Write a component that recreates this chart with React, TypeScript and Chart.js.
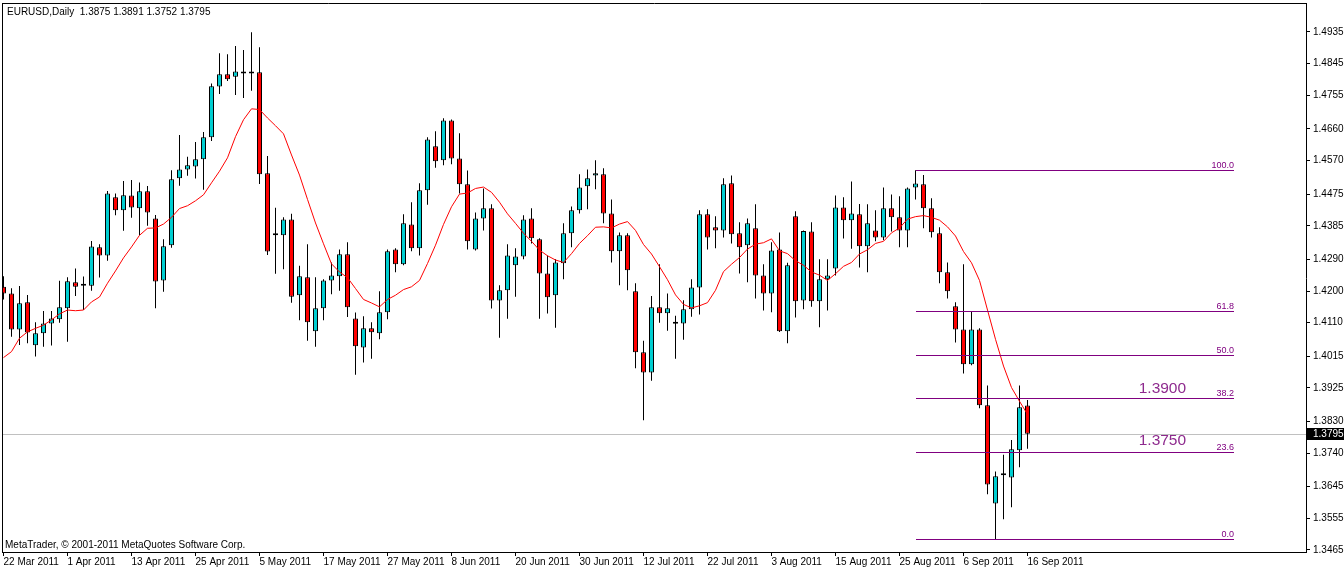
import React, { useEffect, useRef } from "react";
import { Chart, registerables } from "chart.js";

Chart.register(...registerables);

// ---------- data ----------
const symbolName = "EURUSD";
const periodName = "Daily";
const copyrightText = "MetaTrader, \u00A9 2001-2011 MetaQuotes Software Corp.";

const dateLabels = [
  "22 Mar 2011", "1 Apr 2011", "13 Apr 2011", "25 Apr 2011", "5 May 2011", "17 May 2011",
  "27 May 2011", "8 Jun 2011", "20 Jun 2011", "30 Jun 2011", "12 Jul 2011", "22 Jul 2011",
  "3 Aug 2011", "15 Aug 2011", "25 Aug 2011", "6 Sep 2011", "16 Sep 2011",
];
const dateTickIndex = [0, 8, 16, 24, 32, 40, 48, 56, 64, 72, 80, 88, 96, 104, 112, 120, 128];

const yTickLabels = [
  "1.4935", "1.4845", "1.4755", "1.4660", "1.4570", "1.4475", "1.4385", "1.4290", "1.4200",
  "1.4110", "1.4015", "1.3925", "1.3830", "1.3740", "1.3645", "1.3555", "1.3465",
];

const opens = [
  1.4212, 1.4193, 1.4091, 1.4168, 1.4046, 1.4080, 1.4108, 1.4120, 1.4151, 1.4225,
  1.4215, 1.4215, 1.4324, 1.4301, 1.4466, 1.4429, 1.4471, 1.4435, 1.4483, 1.4406,
  1.4230, 1.4330, 1.4520, 1.4545, 1.4553, 1.4574, 1.4636, 1.4780, 1.4815, 1.4808,
  1.4823, 1.4821, 1.4821, 1.4534, 1.4358, 1.4358, 1.4403, 1.4188, 1.4239, 1.4086,
  1.4151, 1.4230, 1.4242, 1.4304, 1.4122, 1.4040, 1.4094, 1.4080, 1.4140, 1.4318,
  1.4276, 1.4389, 1.4321, 1.4486, 1.4611, 1.4571, 1.4684, 1.4576, 1.4503, 1.4318,
  1.4406, 1.4435, 1.4173, 1.4202, 1.4273, 1.4298, 1.4406, 1.4347, 1.4250, 1.4188,
  1.4279, 1.4364, 1.4429, 1.4497, 1.4528, 1.4531, 1.4420, 1.4313, 1.4358, 1.4199,
  1.4026, 1.3969, 1.4154, 1.4137, 1.4107, 1.4108, 1.4148, 1.4210, 1.4418, 1.4381,
  1.4372, 1.4506, 1.4364, 1.4330, 1.4378, 1.4244, 1.4193, 1.4318, 1.4086, 1.4412,
  1.4173, 1.4369, 1.4171, 1.4233, 1.4264, 1.4437, 1.4401, 1.4418, 1.4327, 1.4372,
  1.4352, 1.4435, 1.4409, 1.4372, 1.4494, 1.4503, 1.4435, 1.4364, 1.4253, 1.4157,
  1.4091, 1.3992, 1.4091, 1.3876, 1.3597, 1.3677, 1.3671, 1.3748, 1.3875,
];
const highs = [
  1.4242, 1.4208, 1.4214, 1.4189, 1.4111, 1.4143, 1.4143, 1.4229, 1.4239, 1.4264,
  1.4241, 1.4342, 1.4333, 1.4484, 1.4477, 1.4512, 1.4515, 1.4508, 1.4498, 1.4416,
  1.4347, 1.4543, 1.4643, 1.4581, 1.4623, 1.4651, 1.4789, 1.4875, 1.4872, 1.4895,
  1.4884, 1.4934, 1.4892, 1.4583, 1.4436, 1.4409, 1.4419, 1.4272, 1.4333, 1.4239,
  1.4233, 1.4281, 1.4318, 1.4338, 1.4139, 1.4128, 1.4111, 1.4199, 1.4318, 1.4321,
  1.4418, 1.4452, 1.4506, 1.4636, 1.4653, 1.4690, 1.4687, 1.4648, 1.4542, 1.4423,
  1.4491, 1.4446, 1.4216, 1.4333, 1.4321, 1.4415, 1.4435, 1.4350, 1.4301, 1.4290,
  1.4392, 1.4440, 1.4531, 1.4545, 1.4571, 1.4548, 1.4460, 1.4366, 1.4364, 1.4222,
  1.4059, 1.4186, 1.4276, 1.4193, 1.4130, 1.4174, 1.4233, 1.4429, 1.4432, 1.4412,
  1.4520, 1.4528, 1.4395, 1.4406, 1.4446, 1.4276, 1.4338, 1.4366, 1.4280, 1.4426,
  1.4372, 1.4395, 1.4290, 1.4290, 1.4471, 1.4466, 1.4511, 1.4447, 1.4446, 1.4429,
  1.4494, 1.4474, 1.4469, 1.4494, 1.4543, 1.4529, 1.4463, 1.4381, 1.4281, 1.4168,
  1.4276, 1.4141, 1.4094, 1.3932, 1.3688, 1.3735, 1.3777, 1.3932, 1.3891,
];
const lows = [
  1.4176, 1.4070, 1.4047, 1.4052, 1.4014, 1.4042, 1.4045, 1.4110, 1.4056, 1.4186,
  1.4146, 1.4201, 1.4238, 1.4286, 1.4415, 1.4371, 1.4408, 1.4358, 1.4385, 1.4151,
  1.4198, 1.4323, 1.4499, 1.4527, 1.4519, 1.4487, 1.4626, 1.4759, 1.4796, 1.4756,
  1.4748, 1.4768, 1.4504, 1.4302, 1.4249, 1.4262, 1.4167, 1.4117, 1.4059, 1.4042,
  1.4117, 1.4191, 1.4201, 1.4126, 1.3962, 1.3997, 1.4008, 1.4063, 1.4120, 1.4253,
  1.4273, 1.4313, 1.4301, 1.4445, 1.4550, 1.4557, 1.4560, 1.4477, 1.4318, 1.4315,
  1.4372, 1.4150, 1.4067, 1.4121, 1.4184, 1.4290, 1.4335, 1.4121, 1.4136, 1.4096,
  1.4233, 1.4324, 1.4420, 1.4432, 1.4489, 1.4392, 1.4281, 1.4216, 1.4202, 1.3981,
  1.3833, 1.3945, 1.4110, 1.4087, 1.4008, 1.4062, 1.4127, 1.4133, 1.4318, 1.4321,
  1.4352, 1.4335, 1.4250, 1.4225, 1.4179, 1.4145, 1.4140, 1.4084, 1.4052, 1.4125,
  1.4148, 1.4155, 1.4097, 1.4145, 1.4244, 1.4349, 1.4320, 1.4267, 1.4253, 1.4341,
  1.4344, 1.4369, 1.4324, 1.4324, 1.4460, 1.4378, 1.4352, 1.4222, 1.4179, 1.4054,
  1.3966, 1.3989, 1.3867, 1.3623, 1.3495, 1.3552, 1.3586, 1.3700, 1.3752,
];
const closes = [
  1.4193, 1.4091, 1.4165, 1.4082, 1.4080, 1.4108, 1.4122, 1.4154, 1.4228, 1.4212,
  1.4215, 1.4326, 1.4301, 1.4477, 1.4429, 1.4472, 1.4437, 1.4483, 1.4423, 1.4227,
  1.4327, 1.4517, 1.4545, 1.4557, 1.4574, 1.4636, 1.4781, 1.4815, 1.4801, 1.4823,
  1.4817, 1.4817, 1.4531, 1.4312, 1.4358, 1.4403, 1.4184, 1.4242, 1.4111, 1.4151,
  1.4230, 1.4244, 1.4304, 1.4154, 1.4043, 1.4094, 1.4083, 1.4140, 1.4313, 1.4276,
  1.4392, 1.4321, 1.4486, 1.4630, 1.4568, 1.4684, 1.4576, 1.4503, 1.4341, 1.4406,
  1.4435, 1.4173, 1.4202, 1.4301, 1.4298, 1.4403, 1.4350, 1.4250, 1.4182, 1.4281,
  1.4364, 1.4429, 1.4494, 1.4520, 1.4534, 1.4420, 1.4313, 1.4358, 1.4259, 1.4026,
  1.3969, 1.4154, 1.4137, 1.4151, 1.4107, 1.4148, 1.4210, 1.4418, 1.4352, 1.4372,
  1.4503, 1.4361, 1.4324, 1.4392, 1.4244, 1.4193, 1.4315, 1.4086, 1.4273, 1.4171,
  1.4370, 1.4171, 1.4233, 1.4244, 1.4437, 1.4401, 1.4420, 1.4327, 1.4392, 1.4352,
  1.4435, 1.4409, 1.4372, 1.4491, 1.4505, 1.4435, 1.4367, 1.4253, 1.4199, 1.4091,
  1.3992, 1.4091, 1.3876, 1.3651, 1.3674, 1.3677, 1.3751, 1.3870, 1.3795,
];
// red moving-average line
const ma10 = [
  1.4011, 1.4028, 1.4066, 1.4084, 1.4094, 1.4103, 1.4118, 1.4135, 1.4146, 1.4144,
  1.4146, 1.4169, 1.4183, 1.4222, 1.4257, 1.4294, 1.4325, 1.4358, 1.4378, 1.4379,
  1.4390, 1.4409, 1.4434, 1.4442, 1.4456, 1.4473, 1.4507, 1.4540, 1.4578, 1.4638,
  1.4686, 1.4717, 1.4715, 1.4691, 1.4669, 1.4646, 1.4586, 1.4529, 1.4460, 1.4393,
  1.4334, 1.4277, 1.4254, 1.4238, 1.4207, 1.4176, 1.4166, 1.4155, 1.4176, 1.4188,
  1.4204, 1.4212, 1.4230, 1.4278, 1.4330, 1.4389, 1.4439, 1.4475, 1.4478, 1.4491,
  1.4495, 1.4480, 1.4452, 1.4419, 1.4392, 1.4364, 1.4341, 1.4316, 1.4300, 1.4288,
  1.4281, 1.4306, 1.4335, 1.4357, 1.4381, 1.4382, 1.4379, 1.4390, 1.4397, 1.4372,
  1.4332, 1.4305, 1.4269, 1.4232, 1.4189, 1.4162, 1.4152, 1.4158, 1.4167, 1.4202,
  1.4255, 1.4276, 1.4295, 1.4319, 1.4333, 1.4337, 1.4348, 1.4314, 1.4306, 1.4286,
  1.4273, 1.4254, 1.4245, 1.4230, 1.4249, 1.4270, 1.4281, 1.4305, 1.4317, 1.4335,
  1.4341, 1.4365, 1.4379, 1.4404, 1.4411, 1.4414, 1.4409, 1.4401, 1.4382, 1.4356,
  1.4312, 1.4280, 1.4230, 1.4146, 1.4063, 1.3987, 1.3926, 1.3887, 1.3850,
];

// Fibonacci retracement object
const fibHigh = 1.4543;
const fibLow = 1.3495;
const fibLevels = [0, 23.6, 38.2, 50, 61.8, 100];
const fibStartIndex = 114;
const fibEndIndex = 153.8;

// text objects
const noteTexts = ["1.3900", "1.3750"];
const noteIndex = [141.9, 141.9];
const notePrice = [1.3922, 1.3774];

// ---------- styling ----------
const BULL = "#00CED1";
const BEAR = "#FF0000";
const FIB_COLOR = "#800080";
const NOTE_COLOR = "#8E2A8E";
const FONT = "'Liberation Sans', Arial, sans-serif";

const X_MIN = -0.0625;
const X_MAX = -0.0625 + 1303 / 8;
const Y_MAX = 1.4935 + 28 * (0.147 / 518);
const Y_MIN = 1.3465 - 2 * (0.147 / 518);

const mtPlugin = {
  id: "mtOverlay",
  beforeDatasetsDraw(chart: any) {
    const { ctx, chartArea, scales } = chart;
    const last = closes[closes.length - 1];
    const y = Math.round(scales.y.getPixelForValue(last)) + 0.5;
    ctx.save();
    ctx.strokeStyle = "#C0C0C0";
    ctx.lineWidth = 1;
    ctx.beginPath();
    ctx.moveTo(chartArea.left - 1, y);
    ctx.lineTo(chartArea.right, y);
    ctx.stroke();
    ctx.restore();
  },
  afterDatasetsDraw(chart: any) {
    const { ctx, scales } = chart;
    const x0 = Math.round(scales.x.getPixelForValue(fibStartIndex));
    const x1 = Math.round(scales.x.getPixelForValue(fibEndIndex));
    ctx.save();
    fibLevels.forEach((lvl) => {
      const price = fibLow + ((fibHigh - fibLow) * lvl) / 100;
      const y = Math.round(scales.y.getPixelForValue(price)) + 0.5;
      ctx.strokeStyle = FIB_COLOR;
      ctx.lineWidth = 1;
      ctx.beginPath();
      ctx.moveTo(x0, y);
      ctx.lineTo(x1, y);
      ctx.stroke();
      ctx.fillStyle = FIB_COLOR;
      ctx.font = `9px ${FONT}`;
      ctx.textAlign = "right";
      ctx.textBaseline = "alphabetic";
      ctx.fillText(lvl.toFixed(1), x1, y - 2.5);
    });
    noteTexts.forEach((t, i) => {
      ctx.fillStyle = NOTE_COLOR;
      ctx.font = `15.5px ${FONT}`;
      ctx.textAlign = "left";
      ctx.textBaseline = "middle";
      ctx.fillText(t, scales.x.getPixelForValue(noteIndex[i]), scales.y.getPixelForValue(notePrice[i]));
    });
    const n = closes.length - 1;
    const title = `${symbolName},${periodName}  ${opens[n].toFixed(4)} ${highs[n].toFixed(4)} ${lows[n].toFixed(4)} ${closes[n].toFixed(4)}`;
    ctx.fillStyle = "#000";
    ctx.font = `10px ${FONT}`;
    ctx.textAlign = "left";
    ctx.textBaseline = "middle";
    ctx.fillText(title, 7, 12);
    ctx.fillText(copyrightText, 5, 545);
    ctx.restore();
  },
  afterDraw(chart: any) {
    const { ctx, chartArea, scales } = chart;
    ctx.save();
    ctx.strokeStyle = "#000";
    ctx.lineWidth = 1;
    ctx.beginPath();
    ctx.moveTo(chartArea.left - 0.5, chartArea.top - 1);
    ctx.lineTo(chartArea.left - 0.5, chartArea.bottom + 1);
    ctx.moveTo(chartArea.left - 1, chartArea.top - 0.5);
    ctx.lineTo(chartArea.right + 1, chartArea.top - 0.5);
    ctx.stroke();
    const last = closes[closes.length - 1];
    const y = Math.round(scales.y.getPixelForValue(last));
    ctx.fillStyle = "#000";
    ctx.fillRect(chartArea.right + 1, y - 6, 40, 12);
    ctx.fillStyle = "#FFF";
    ctx.font = `10px ${FONT}`;
    ctx.textAlign = "left";
    ctx.textBaseline = "middle";
    ctx.fillText(last.toFixed(4), chartArea.right + 7, y);
    ctx.restore();
  },
};

export default function App() {
  const ref = useRef<HTMLCanvasElement | null>(null);

  useEffect(() => {
    document.body.style.margin = "0";
    const canvas = ref.current;
    if (!canvas) return;

    const bodyData = opens.map((o, i) => ({ x: i, y: [o, closes[i]] }));
    const wickData = lows.map((l, i) => ({ x: i, y: [l, highs[i]] }));
    const maData = ma10.map((v, i) => ({ x: i, y: v }));
    const bodyColors = opens.map((o, i) => (closes[i] > o ? BULL : BEAR));

    const chart = new Chart(canvas, {
      type: "bar",
      data: {
        datasets: [
          {
            type: "line",
            label: "MA",
            data: maData as any,
            borderColor: "#FF0000",
            borderWidth: 1,
            pointRadius: 0,
            tension: 0,
            fill: false,
            order: 0,
            clip: 0,
          } as any,
          {
            type: "bar",
            label: "body",
            data: bodyData as any,
            backgroundColor: bodyColors,
            borderColor: "#000",
            borderWidth: 1,
            borderSkipped: false,
            grouped: false,
            barThickness: 5,
            maxBarThickness: 5,
            minBarLength: 2,
            inflateAmount: 0,
            order: 1,
            clip: 0,
          } as any,
          {
            type: "bar",
            label: "wick",
            data: wickData as any,
            backgroundColor: "#000",
            borderWidth: 0,
            grouped: false,
            barThickness: 1,
            maxBarThickness: 1,
            inflateAmount: 0,
            order: 2,
            clip: 0,
          } as any,
        ],
      },
      options: {
        animation: false,
        responsive: false,
        devicePixelRatio: 1,
        events: [],
        layout: { padding: { left: 3, top: 4, right: 0, bottom: 0 } },
        plugins: {
          legend: { display: false },
          tooltip: { enabled: false },
          title: { display: false },
        },
        scales: {
          x: {
            type: "linear",
            position: "bottom",
            min: X_MIN,
            max: X_MAX,
            offset: false,
            grid: {
              display: true,
              drawOnChartArea: false,
              drawTicks: true,
              tickLength: 4,
              color: "#000",
              offset: false,
            },
            border: { display: true, color: "#000", width: 1 },
            ticks: {
              autoSkip: false,
              maxRotation: 0,
              minRotation: 0,
              align: "start",
              padding: 0,
              color: "#000",
              font: { family: FONT, size: 10 },
              callback: (_v: any, i: number) => dateLabels[i],
            },
            afterBuildTicks: (s: any) => {
              s.ticks = dateTickIndex.map((v) => ({ value: v }));
            },
            afterFit: (s: any) => {
              s.height = 18;
              s.paddingLeft = 0;
              s.paddingRight = 0;
            },
          } as any,
          y: {
            type: "linear",
            position: "right",
            min: Y_MIN,
            max: Y_MAX,
            beginAtZero: false,
            grid: {
              display: true,
              drawOnChartArea: false,
              drawTicks: true,
              tickLength: 4,
              color: "#000",
            },
            border: { display: true, color: "#000", width: 1 },
            ticks: {
              autoSkip: false,
              padding: 3,
              color: "#000",
              font: { family: FONT, size: 10 },
              callback: (_v: any, i: number) => yTickLabels[i],
            },
            afterBuildTicks: (s: any) => {
              s.ticks = yTickLabels.map((t) => ({ value: parseFloat(t) }));
            },
            afterFit: (s: any) => {
              s.width = 38;
              s.paddingTop = 0;
              s.paddingBottom = 0;
            },
          } as any,
        },
      },
      plugins: [mtPlugin],
    });

    return () => chart.destroy();
  }, []);

  return (
    <div style={{ width: 1344, height: 570, background: "#fff" }}>
      <canvas ref={ref} width={1344} height={570} style={{ display: "block" }} />
    </div>
  );
}
